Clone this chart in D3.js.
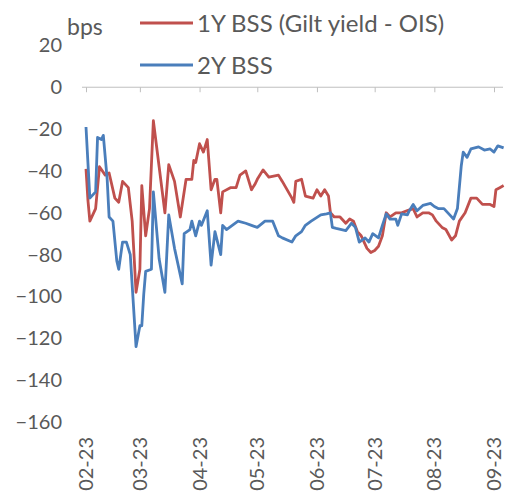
<!DOCTYPE html>
<html>
<head>
<meta charset="utf-8">
<script src="https://cdn.jsdelivr.net/npm/d3@7/dist/d3.min.js"></script>
<style>
  html, body { margin: 0; padding: 0; background: #fff; }
  svg { display: block; }
  text { font-family: Lato, "Noto Sans", sans-serif; fill: #595959; }
</style>
</head>
<body>
<svg id="chart" width="513" height="494"></svg>
<script>
// 1Y bond-swap spread (Gilt yield - OIS), bps
const dates1Y = ["2023-02-01","2023-02-02","2023-02-03","2023-02-06","2023-02-08","2023-02-11","2023-02-13","2023-02-16","2023-02-18","2023-02-20",
  "2023-02-23","2023-02-25","2023-02-27","2023-03-01","2023-03-02","2023-03-04","2023-03-06","2023-03-08","2023-03-11","2023-03-14",
  "2023-03-16","2023-03-19","2023-03-22","2023-03-25","2023-03-28","2023-03-29","2023-03-30","2023-04-01","2023-04-03","2023-04-05",
  "2023-04-07","2023-04-09","2023-04-10","2023-04-12","2023-04-13","2023-04-17","2023-04-20","2023-04-22","2023-04-25","2023-04-28",
  "2023-04-30","2023-05-01","2023-05-04","2023-05-07","2023-05-12","2023-05-14","2023-05-19","2023-05-20","2023-05-21","2023-05-24",
  "2023-05-26","2023-05-30","2023-06-01","2023-06-03","2023-06-05","2023-06-07","2023-06-08","2023-06-10","2023-06-13","2023-06-16",
  "2023-06-18","2023-06-20","2023-06-22","2023-06-24","2023-06-27","2023-06-29","2023-07-01","2023-07-03","2023-07-05","2023-07-07",
  "2023-07-09","2023-07-12","2023-07-15","2023-07-18","2023-07-21","2023-07-23","2023-07-26","2023-07-29","2023-07-31","2023-08-02",
  "2023-08-05","2023-08-07","2023-08-10","2023-08-12","2023-08-14","2023-08-17","2023-08-20","2023-08-23","2023-08-26","2023-08-30",
  "2023-09-01","2023-09-02","2023-09-04","2023-09-06"];
const values1Y = [-39,-54,-64,-58,-38,-42,-41,-53,-55,-45,
  -48,-64,-98,-87,-47,-71,-58,-16,-38,-60,
  -37,-45,-62,-44,-44,-35,-36,-27,-31,-25,
  -49,-44,-44,-60,-50,-48,-48,-42,-40,-49,
  -46,-44,-39.5,-43,-42,-45,-53,-55,-45,-44,
  -52,-53,-49,-52,-49,-52,-60,-62,-62,-65,
  -63,-64,-69,-71,-77,-79,-78,-76,-71,-60,
  -62,-60,-60,-59,-58,-62,-60,-60,-61,-64,
  -67,-68,-73,-71,-64,-60,-53,-53,-56,-56,
  -57,-49,-48,-47];

// 2Y bond-swap spread, bps
const dates2Y = ["2023-02-01","2023-02-02","2023-02-03","2023-02-06","2023-02-07","2023-02-09","2023-02-10","2023-02-12","2023-02-13","2023-02-15",
  "2023-02-17","2023-02-18","2023-02-20","2023-02-22","2023-02-24","2023-02-27","2023-03-01","2023-03-02","2023-03-03","2023-03-04",
  "2023-03-07","2023-03-08","2023-03-11","2023-03-14","2023-03-16","2023-03-19","2023-03-23","2023-03-24","2023-03-27","2023-03-28",
  "2023-03-30","2023-04-01","2023-04-02","2023-04-05","2023-04-07","2023-04-09","2023-04-12","2023-04-13","2023-04-15","2023-04-18",
  "2023-04-21","2023-04-25","2023-04-28","2023-05-01","2023-05-05","2023-05-09","2023-05-12","2023-05-14","2023-05-19","2023-05-21",
  "2023-05-24","2023-05-26","2023-05-29","2023-06-03","2023-06-06","2023-06-08","2023-06-09","2023-06-11","2023-06-16","2023-06-19",
  "2023-06-21","2023-06-23","2023-06-26","2023-06-28","2023-06-30","2023-07-03","2023-07-05","2023-07-07","2023-07-09","2023-07-12",
  "2023-07-13","2023-07-15","2023-07-18","2023-07-19","2023-07-21","2023-07-23","2023-07-26","2023-07-30","2023-08-01","2023-08-03",
  "2023-08-06","2023-08-09","2023-08-11","2023-08-13","2023-08-15","2023-08-16","2023-08-18","2023-08-20","2023-08-24","2023-08-27",
  "2023-08-30","2023-09-01","2023-09-03","2023-09-06"];
const values2Y = [-19,-36,-53,-50,-24,-25,-23,-44,-62,-64,
  -83,-87,-74,-74,-80,-124,-114,-114,-99,-88,
  -87,-50,-82,-98,-61,-77,-94,-70,-68,-64,
  -71,-64,-66,-59,-85,-69,-80,-66,-68,-66,
  -64,-65,-66,-67,-64,-64,-71,-72,-74,-71,
  -69,-66,-64,-61,-60.5,-60,-67,-67.5,-68.5,-65,
  -67,-74,-72,-74,-70,-72,-66,-60.5,-63,-63,
  -66,-60.5,-61,-59,-56,-59,-56.5,-55.5,-57,-58,
  -58,-61,-63,-58,-37.5,-31,-33.5,-29.5,-28.5,-30,
  -29.5,-31,-28,-29];

// Axis ticks
const yTicks = [20, 0, -20, -40, -60, -80, -100, -120, -140, -160];
const monthTicks = ["2023-02-01","2023-03-01","2023-04-01","2023-05-01","2023-06-01","2023-07-01","2023-08-01","2023-09-01"];

const seriesNames = ["1Y BSS (Gilt yield - OIS)", "2Y BSS"];
const seriesColors = ["#C0504D", "#4A7EBB"];

const parse = d3.timeParse("%Y-%m-%d");
const toPoints = (ds, vs) => ds.map((d, i) => ({ date: parse(d), v: vs[i] }));
const series = [toPoints(dates1Y, values1Y), toPoints(dates2Y, values2Y)];
const ticksX = monthTicks.map(parse);

const svg = d3.select("#chart");

const x = d3.scaleTime()
  .domain([ticksX[0], ticksX[ticksX.length - 1]])
  .range([86, 494]);
const y = d3.scaleLinear()
  .domain([-160, 20])
  .range([422, 45.4]);

// Value labels on the left (no axis line, no gridlines)
const yAxis = d3.axisLeft(y).tickValues(yTicks).tickSize(0).tickPadding(0).tickFormat(d3.format("d"));
svg.append("g")
  .attr("transform", "translate(62,0)")
  .call(yAxis)
  .call(g => g.select(".domain").remove())
  .call(g => g.selectAll("text")
    .attr("fill", "#595959")
    .style("font-size", "20px")
    .style("font-family", "Lato, 'Noto Sans', sans-serif"));

// Horizontal axis line through zero with month ticks
svg.append("line")
  .attr("x1", 82).attr("x2", 503)
  .attr("y1", y(0)).attr("y2", y(0))
  .attr("stroke", "#BFBFBF").attr("stroke-width", 1);

const xAxis = d3.axisBottom(x).tickValues(ticksX).tickSize(5).tickFormat("");
svg.append("g")
  .attr("transform", `translate(0,${y(0)})`)
  .call(xAxis)
  .call(g => g.select(".domain").remove())
  .call(g => g.selectAll(".tick line").attr("stroke", "#BFBFBF"));

// Month labels, rotated, along the bottom
const fmt = d3.timeFormat("%m-%y");
svg.append("g")
  .selectAll("text")
  .data(ticksX)
  .join("text")
  .attr("transform", d => `translate(${x(d)},437) rotate(-90)`)
  .attr("text-anchor", "end")
  .attr("dy", "0.35em")
  .style("font-size", "20px")
  .text(d => fmt(d));

// Series lines
const line = d3.line()
  .x(d => x(d.date))
  .y(d => y(d.v));

svg.append("g")
  .selectAll("path")
  .data(series)
  .join("path")
  .attr("d", line)
  .attr("fill", "none")
  .attr("stroke", (d, i) => seriesColors[i])
  .attr("stroke-width", 2.8)
  .attr("stroke-linejoin", "round");

// Unit label
svg.append("text")
  .attr("x", 67).attr("y", 35)
  .style("font-size", "23px")
  .text("bps");

// Legend
const legend = svg.append("g")
  .selectAll("g")
  .data(seriesNames)
  .join("g")
  .attr("transform", (d, i) => `translate(140,${23 + i * 42})`);
legend.append("line")
  .attr("x1", 0).attr("x2", 53)
  .attr("y1", 0).attr("y2", 0)
  .attr("stroke", (d, i) => seriesColors[i])
  .attr("stroke-width", 2.8);
legend.append("text")
  .attr("x", 57).attr("dy", "0.36em")
  .style("font-size", "24px")
  .text(d => d);
</script>
</body>
</html>
